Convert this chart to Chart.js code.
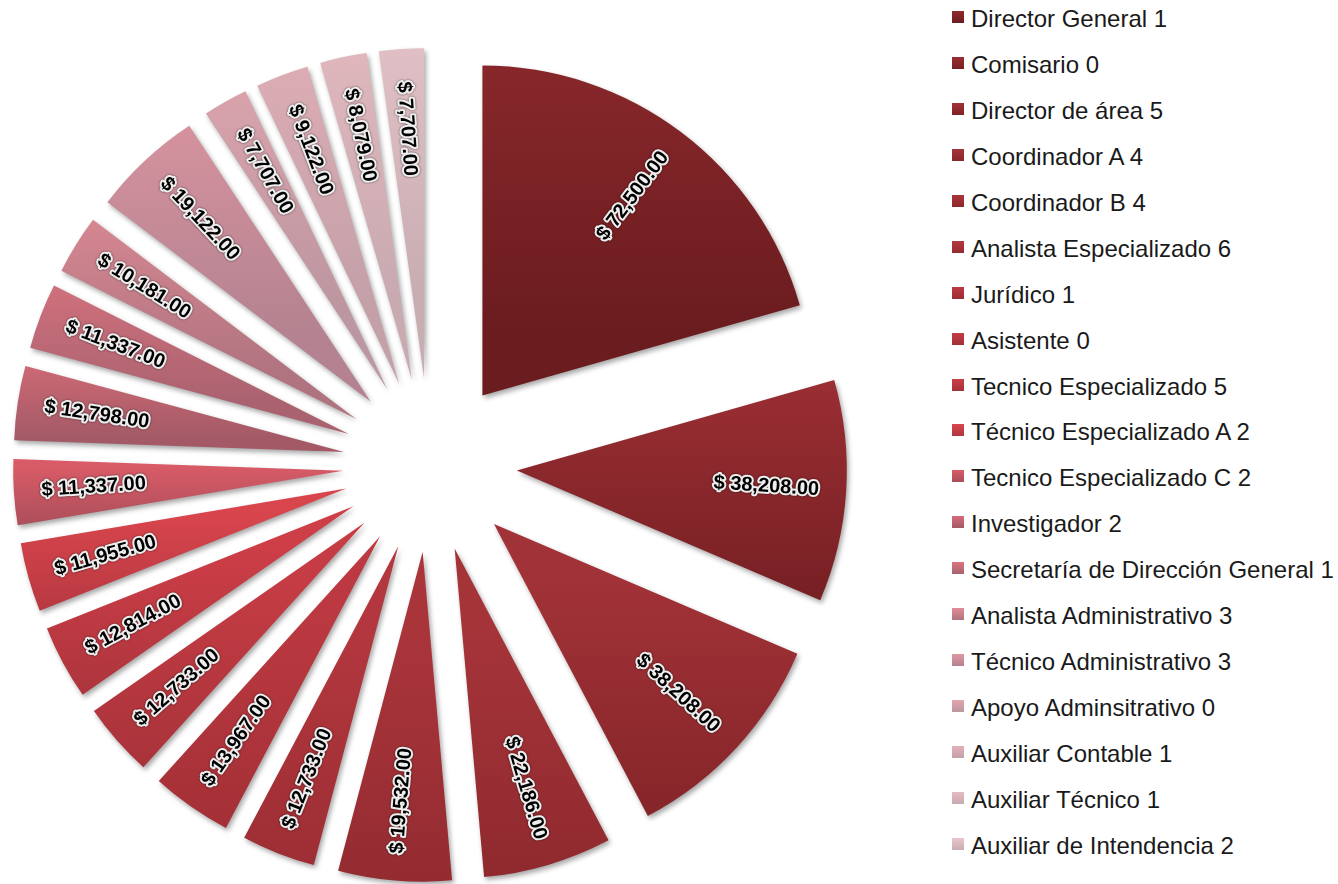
<!DOCTYPE html>
<html>
<head>
<meta charset="utf-8">
<script src="https://cdn.jsdelivr.net/npm/chart.js@4.4.1/dist/chart.umd.min.js"></script>
<style>
    html, body {
        margin: 0;
        padding: 0;
        background: #ffffff;
        width: 1338px;
        height: 884px;
        overflow: hidden;
    }
    #chartBox {
        position: absolute;
        left: 0;
        top: 0;
    }
    #legend {
        position: absolute;
        left: 952px;
        top: 0;
        font-family: "Liberation Sans", Arial, sans-serif;
        font-size: 24px;
        color: #1a1a1a;
    }
    .legend-item {
        position: absolute;
        left: 0;
        height: 28px;
        line-height: 28px;
        white-space: nowrap;
    }
    .legend-box {
        position: absolute;
        left: 0;
        top: 6px;
        width: 12px;
        height: 12px;
    }
    .legend-text {
        position: absolute;
        left: 19px;
        top: 0;
    }
</style>
</head>
<body>
<div id="chartBox"><canvas id="pieChart" width="860" height="930"></canvas></div>
<div id="legend"></div>

<script>
// Categorías (como en la leyenda)
const labels = [
    'Director General 1',
    'Comisario 0',
    'Director de área 5',
    'Coordinador A 4',
    'Coordinador B 4',
    'Analista Especializado 6',
    'Jurídico 1',
    'Asistente 0',
    'Tecnico Especializado 5',
    'Técnico Especializado A 2',
    'Tecnico Especializado C 2',
    'Investigador 2',
    'Secretaría de Dirección General 1',
    'Analista Administrativo 3',
    'Técnico Administrativo 3',
    'Apoyo Adminsitrativo 0',
    'Auxiliar Contable 1',
    'Auxiliar Técnico 1',
    'Auxiliar de Intendencia 2'
];

// Sueldos por puesto
const salaries = [
    72500, 38208, 38208, 22186, 19532, 12733, 13967, 12733, 12814, 11955,
    11337, 12798, 11337, 10181, 19122, 7707, 9122, 8079, 7707
];

// Colores: arriba / abajo de cada rebanada (degradado vertical)
const topColors = [
    '#8f2a2e', '#992e33', '#a13237', '#a53439', '#a9353b', '#b3373e', '#bc3941',
    '#c53c44', '#cd3e47', '#d9454d', '#d95b67', '#d46b77', '#d9747f', '#e08c96',
    '#de97a2', '#e2a6af', '#e4b0b8', '#e7bbc1', '#e9c6cb'
];
const bottomColors = [
    '#6b1c1f', '#761f23', '#7e2226', '#88262b', '#8c282d', '#962b31', '#9c2d33',
    '#a03037', '#a4323a', '#b0363e', '#a84e5a', '#a35a66', '#aa6270', '#b07480',
    '#b48290', '#bc96a0', '#c4a0a8', '#c8aab0', '#c8adb2'
];

// Geometría del pastel "explotado"
const RADIUS = 330;       // radio de cada rebanada
const EXPLODE = 87;       // separación de las rebanadas
const LABEL_DIST = 250;   // distancia de la etiqueta desde la punta

const total = salaries.reduce((a, b) => a + b, 0);

// Formato moneda
function money(v) {
    return '$ ' + v.toLocaleString('en-US', { minimumFractionDigits: 2, maximumFractionDigits: 2 });
}

// Degradado vertical sobre la altura de cada rebanada
function sliceGradient(context) {
    const chart = context.chart;
    const area = chart.chartArea;
    const i = context.dataIndex;
    if (!area || context.type !== 'data') return topColors[i || 0];

    let before = 0;
    for (let k = 0; k < i; k++) before += salaries[k];
    const start = -Math.PI / 2 + before / total * 2 * Math.PI;
    const end = start + salaries[i] / total * 2 * Math.PI;
    const mid = (start + end) / 2;
    const tipY = (area.top + area.bottom) / 2 + Math.sin(mid) * EXPLODE;

    let minY = tipY, maxY = tipY;
    for (let s = 0; s <= 30; s++) {
        const a = start + (end - start) * s / 30;
        const y = tipY + Math.sin(a) * RADIUS;
        minY = Math.min(minY, y);
        maxY = Math.max(maxY, y);
    }
    const g = chart.ctx.createLinearGradient(0, minY, 0, maxY);
    g.addColorStop(0, topColors[i]);
    g.addColorStop(1, bottomColors[i]);
    return g;
}

// Plugin: rebanadas separadas (con sombra) y etiquetas giradas
const explodedPie = {
    id: 'explodedPie',
    beforeDatasetDraw(chart, args) {
        const ctx = chart.ctx;
        const meta = args.meta;
        ctx.save();
        ctx.shadowColor = 'rgba(0, 0, 0, 0.35)';
        ctx.shadowBlur = 5;
        ctx.shadowOffsetX = 2;
        ctx.shadowOffsetY = 3;
        meta.data.forEach(arc => {
            const mid = (arc.startAngle + arc.endAngle) / 2;
            ctx.save();
            ctx.translate(Math.cos(mid) * EXPLODE, Math.sin(mid) * EXPLODE);
            arc.draw(ctx);
            ctx.restore();
        });
        ctx.restore();
        return false; // ya dibujado
    },
    afterDatasetsDraw(chart) {
        const ctx = chart.ctx;
        const meta = chart.getDatasetMeta(0);
        ctx.save();
        ctx.font = 'bold 20px "Liberation Sans", Arial, sans-serif';
        ctx.textAlign = 'center';
        ctx.textBaseline = 'middle';
        ctx.lineJoin = 'round';
        meta.data.forEach((arc, i) => {
            const mid = (arc.startAngle + arc.endAngle) / 2;
            const dist = EXPLODE + LABEL_DIST;
            const x = arc.x + Math.cos(mid) * dist;
            const y = arc.y + Math.sin(mid) * dist;
            // en la mitad izquierda se gira 180° para que el texto no quede al revés
            const rot = mid > Math.PI / 2 ? mid - Math.PI : mid;
            const text = money(salaries[i]);

            ctx.save();
            ctx.translate(x, y);
            ctx.rotate(rot);
            ctx.shadowColor = 'rgba(0, 0, 0, 0.7)';
            ctx.shadowBlur = 2;
            ctx.lineWidth = 4;
            ctx.strokeStyle = '#eeeeee';
            ctx.strokeText(text, 0, 0);
            ctx.shadowColor = 'transparent';
            ctx.fillStyle = '#000000';
            ctx.fillText(text, 0, 0);
            ctx.restore();
        });
        ctx.restore();
    }
};

// Leyenda en HTML
function buildLegend() {
    const legend = document.getElementById('legend');
    labels.forEach((label, i) => {
        const item = document.createElement('div');
        item.className = 'legend-item';
        item.style.top = (5 + i * 45.94) + 'px';
        item.innerHTML = `<span class="legend-box" style="background: linear-gradient(${topColors[i]}, ${bottomColors[i]});"></span>` +
            `<span class="legend-text">${label}</span>`;
        legend.appendChild(item);
    });
}

document.addEventListener('DOMContentLoaded', () => {
    buildLegend();

    const ctx = document.getElementById('pieChart').getContext('2d');
    new Chart(ctx, {
        type: 'pie',
        data: {
            labels: labels,
            datasets: [{
                data: salaries,
                backgroundColor: sliceGradient,
                borderWidth: 0,
                radius: RADIUS,
                clip: false
            }]
        },
        options: {
            responsive: false,
            animation: false,
            layout: { padding: 0 },
            plugins: {
                legend: { display: false },
                tooltip: { enabled: false }
            }
        },
        plugins: [explodedPie]
    });
});
</script>
</body>
</html>
